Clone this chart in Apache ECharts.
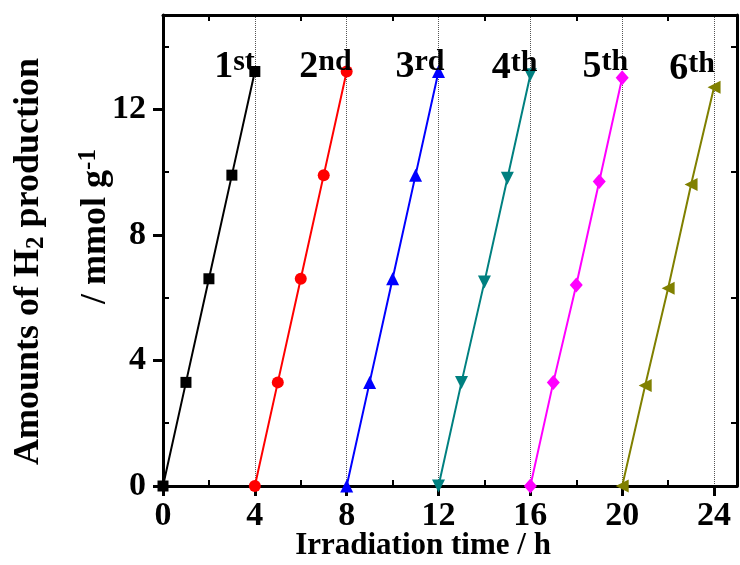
<!DOCTYPE html>
<html>
<head>
<meta charset="utf-8">
<script src="https://cdn.jsdelivr.net/npm/echarts@6/dist/echarts.min.js"></script>
<style>
  html, body { margin: 0; padding: 0; background: #fff; }
  #chart { width: 740px; height: 565px; }
</style>
</head>
<body>
<div id="chart"></div>
<script>
// Irradiation time (h) for each of the six photocatalytic cycles
const cycle1Time = [0, 1, 2, 3, 4];
const cycle2Time = [4, 5, 6, 7, 8];
const cycle3Time = [8, 9, 10, 11, 12];
const cycle4Time = [12, 13, 14, 15, 16];
const cycle5Time = [16, 17, 18, 19, 20];
const cycle6Time = [20, 21, 22, 23, 24];

// Accumulated H2 (mmol g^-1)
const cycle1H2 = [0, 3.3, 6.6, 9.9, 13.2];
const cycle2H2 = [0, 3.3, 6.6, 9.9, 13.2];
const cycle3H2 = [0, 3.3, 6.6, 9.9, 13.2];
const cycle4H2 = [0, 3.3, 6.5, 9.8, 13.1];
const cycle5H2 = [0, 3.3, 6.4, 9.7, 13.0];
const cycle6H2 = [0, 3.2, 6.3, 9.6, 12.7];

// Cycle labels: ordinal number and its superscript suffix
const cycleNumbers = ['1', '2', '3', '4', '5', '6'];
const cycleSuffixes = ['st', 'nd', 'rd', 'th', 'th', 'th'];

// Axis ticks
const xMajorTicks = [0, 4, 8, 12, 16, 20, 24];
const xMinorTicks = [2, 6, 10, 14, 18, 22];
const yMajorTicks = [0, 4, 8, 12];
const yMinorTicks = [2, 6, 10, 14];

const FONT = 'Liberation Serif';

const times = [cycle1Time, cycle2Time, cycle3Time, cycle4Time, cycle5Time, cycle6Time];
const values = [cycle1H2, cycle2H2, cycle3H2, cycle4H2, cycle5H2, cycle6H2];

const styles = [
  { color: '#000000', symbol: 'rect', size: 11, rotate: 0, dx: 0, dy: 16 },
  { color: '#ff0000', symbol: 'circle', size: 12, rotate: 0, dx: 5, dy: 16 },
  { color: '#0000ff', symbol: 'triangle', size: 13, rotate: 0, dx: 6, dy: 16 },
  { color: '#008080', symbol: 'triangle', size: 13, rotate: 180, dx: 7, dy: 14 },
  { color: '#ff00ff', symbol: 'diamond', size: [13, 15], rotate: 0, dx: 6, dy: 9 },
  { color: '#808000', symbol: 'triangle', size: 13, rotate: 90, dx: 1, dy: 2 }
];

const series = times.map((t, s) => {
  const st = styles[s];
  const data = t.map((x, i) => {
    const item = { value: [x, values[s][i]] };
    if (i === t.length - 1) {
      item.label = {
        show: true,
        position: 'inside',
        align: 'right',
        verticalAlign: 'bottom',
        offset: [st.dx, st.dy],
        formatter: '{n|' + cycleNumbers[s] + '}{s|' + cycleSuffixes[s] + '}',
        rich: {
          n: { fontFamily: FONT, fontWeight: 'bold', fontSize: 38, color: '#000', lineHeight: 40 },
          s: { fontFamily: FONT, fontWeight: 'bold', fontSize: 30, color: '#000', verticalAlign: 'top', lineHeight: 40 }
        }
      };
    }
    return item;
  });
  return {
    type: 'line',
    xAxisIndex: 0,
    yAxisIndex: 0,
    data: data,
    symbol: st.symbol,
    symbolSize: st.size,
    symbolRotate: st.rotate,
    showAllSymbol: true,
    lineStyle: { color: st.color, width: 2 },
    itemStyle: { color: st.color },
    emphasis: { disabled: true },
    animation: false
  };
});

const axisLine = { show: true, onZero: false, lineStyle: { color: '#000', width: 3 } };
const tickLabel = { fontFamily: FONT, fontWeight: 'bold', fontSize: 34, color: '#000' };

const chart = echarts.init(document.getElementById('chart'), null, { renderer: 'canvas' });
chart.setOption({
  backgroundColor: '#fff',
  animation: false,
  grid: { left: 163, right: 3, top: 15, bottom: 79, containLabel: false, outerBoundsMode: 'none' },
  xAxis: [
    {
      type: 'value', position: 'bottom', min: 0, max: 25, interval: 4,
      axisLine: axisLine,
      axisTick: { show: true, inside: false, length: 10, lineStyle: { width: 3, color: '#000' }, customValues: xMajorTicks },
      axisLabel: Object.assign({ margin: 13, customValues: xMajorTicks }, tickLabel),
      splitLine: { show: true, lineStyle: { color: '#555', type: [1, 1], width: 1 } },
      name: 'Irradiation time / h',
      nameLocation: 'middle',
      nameGap: 44,
      nameMoveOverlap: false,
      nameTextStyle: { fontFamily: FONT, fontWeight: 'bold', fontSize: 31, color: '#000', padding: [0, 54, 0, 0] }
    },
    {
      type: 'value', position: 'bottom', min: 0, max: 25, interval: 2,
      axisLine: { show: false },
      axisTick: { show: true, inside: true, length: 6, lineStyle: { width: 2, color: '#000' }, customValues: xMinorTicks },
      axisLabel: { show: false },
      splitLine: { show: false }
    },
    {
      type: 'value', position: 'top', min: 0, max: 25, interval: 2,
      axisLine: axisLine,
      axisTick: { show: true, inside: true, length: 6, lineStyle: { width: 2, color: '#000' }, customValues: xMinorTicks },
      axisLabel: { show: false },
      splitLine: { show: false }
    }
  ],
  yAxis: [
    {
      type: 'value', position: 'left', min: 0, max: 15, interval: 4,
      axisLine: axisLine,
      axisTick: { show: true, inside: false, length: 10, lineStyle: { width: 3, color: '#000' }, customValues: yMajorTicks },
      axisLabel: Object.assign({ margin: 17, customValues: yMajorTicks }, tickLabel),
      splitLine: { show: false },
      // two-line rotated title; spacer tokens shift each line along the axis
      name: '{a|Amounts of H}{sub|2}{a| production}{t| }\n{sp| }\n{l| }{a|/ mmol g}{sup|-1}',
      nameLocation: 'middle',
      nameRotate: 90,
      nameGap: 47,
      nameMoveOverlap: false,
      nameTextStyle: {
        color: '#000',
        rich: {
          a: { fontFamily: FONT, fontWeight: 'bold', fontSize: 36, color: '#000', lineHeight: 40 },
          sub: { fontFamily: FONT, fontWeight: 'bold', fontSize: 25, color: '#000', verticalAlign: 'bottom', lineHeight: 40 },
          sup: { fontFamily: FONT, fontWeight: 'bold', fontSize: 25, color: '#000', verticalAlign: 'top', lineHeight: 40 },
          sp: { fontSize: 10, lineHeight: 27 },
          t: { fontSize: 10, width: 22, lineHeight: 40 },
          l: { fontSize: 10, width: 48, lineHeight: 40 }
        }
      }
    },
    {
      type: 'value', position: 'left', min: 0, max: 15, interval: 2,
      axisLine: { show: false },
      axisTick: { show: true, inside: true, length: 6, lineStyle: { width: 2, color: '#000' }, customValues: yMinorTicks },
      axisLabel: { show: false },
      splitLine: { show: false }
    },
    {
      type: 'value', position: 'right', min: 0, max: 15, interval: 2,
      axisLine: axisLine,
      axisTick: { show: true, inside: true, length: 6, lineStyle: { width: 2, color: '#000' }, customValues: yMinorTicks },
      axisLabel: { show: false },
      splitLine: { show: false }
    }
  ],
  series: series
});
</script>
</body>
</html>
